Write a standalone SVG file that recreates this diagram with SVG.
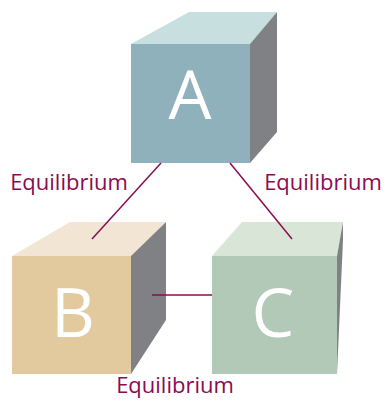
<svg xmlns="http://www.w3.org/2000/svg" width="388" height="400" viewBox="0 0 388 400">
<style>
.side{fill:#808185}
.lbl{font-family:"Open Sans","Noto Sans",sans-serif;font-size:22px;fill:#8a0c52;text-anchor:middle}
.big{font-family:"Open Sans","Noto Sans",sans-serif;font-size:68px;fill:#ffffff;text-anchor:middle}
.conn{stroke:#8a0c52;stroke-width:1.5;fill:none}
</style>
<rect width="388" height="400" fill="#ffffff"/>
<g id="nodeA">
<polygon points="131,44 189,12 277,12 250,44" fill="#c8dfdf"/>
<polygon class="side" points="250,44 277,12 277,132 250,163"/>
<rect x="131" y="44" width="119" height="119" fill="#8fb1bc"/>
<text class="big" x="190" y="119">A</text>
</g>
<g id="nodeB">
<polygon points="12,256 70,222 166,222 131,256" fill="#f2e5d3"/>
<polygon class="side" points="131,256 166,222 166,320 131,374"/>
<rect x="12" y="256" width="119" height="118" fill="#e3c99e"/>
<text class="big" x="73" y="337">B</text>
</g>
<g id="nodeC">
<polygon points="212,256 242,222 343,222 337,256" fill="#d9e5d6"/>
<polygon class="side" points="337,256 343,222 343,240 337,374"/>
<rect x="212" y="256" width="125" height="118" fill="#b3c9b7"/>
<text class="big" x="273" y="337">C</text>
</g>
<g id="connectors">
<line class="conn" x1="161" y1="163" x2="92" y2="239"/>
<line class="conn" x1="230" y1="163" x2="292" y2="239"/>
<line class="conn" x1="152" y1="295" x2="212" y2="295"/>
</g>
<g id="labels">
<text class="lbl" x="69" y="190">Equilibrium</text>
<text class="lbl" x="323" y="190">Equilibrium</text>
<text class="lbl" x="175" y="393">Equilibrium</text>
</g>
</svg>
